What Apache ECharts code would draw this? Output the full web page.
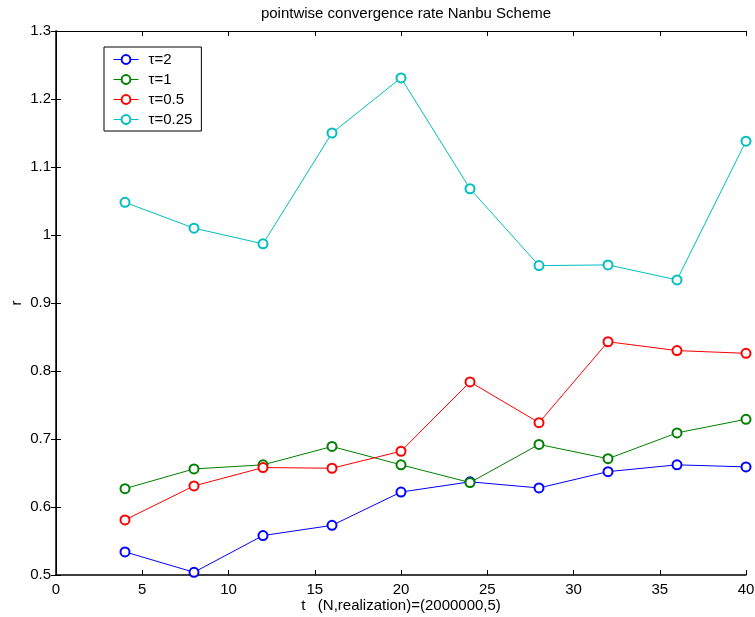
<!DOCTYPE html>
<html><head><meta charset="utf-8">
<script src="https://cdn.jsdelivr.net/npm/echarts@6/dist/echarts.min.js"></script>
<style>html,body{margin:0;padding:0;background:#fff}#c{width:755px;height:617px}</style>
</head><body><div id="c"></div>
<script>
const tValues = [4, 8, 12, 16, 20, 24, 28, 32, 36, 40];
const seriesNames = ['τ=2', 'τ=1', 'τ=0.5', 'τ=0.25'];
const tau2 = [0.534, 0.504, 0.558, 0.573, 0.622, 0.637, 0.628, 0.652, 0.662, 0.659];
const tau1 = [0.627, 0.656, 0.662, 0.689, 0.662, 0.636, 0.692, 0.671, 0.709, 0.729];
const tau05 = [0.581, 0.631, 0.658, 0.657, 0.682, 0.784, 0.724, 0.843, 0.830, 0.826];
const tau025 = [1.048, 1.010, 0.987, 1.150, 1.231, 1.068, 0.955, 0.956, 0.934, 1.138];
const colors = ['#0000ff', '#008000', '#ff0000', '#00bfbf'];
const allData = [tau2, tau1, tau05, tau025];

const font = 'Liberation Sans, Arial, Helvetica, sans-serif';
const fs = 15;
const chart = echarts.init(document.getElementById('c'));
const tick = {show: true, inside: true, length: 5, lineStyle: {color: '#000', width: 1}};
chart.setOption({
  animation: false,
  backgroundColor: '#fff',
  textStyle: {fontFamily: font},
  title: {
    text: 'pointwise convergence rate Nanbu Scheme',
    left: 401, top: 1, textAlign: 'center',
    textStyle: {fontSize: fs, fontWeight: 'normal', color: '#000', fontFamily: font}
  },
  grid: {left: 56, right: 9, top: 31, bottom: 42, containLabel: false, outerBoundsMode: 'none'},
  legend: {
    orient: 'vertical', left: 104, top: 47,
    padding: [5, 9, 4, 9], itemGap: 5, itemWidth: 25, itemHeight: 11,
    borderColor: '#000', borderWidth: 1, backgroundColor: '#fff',
    data: seriesNames,
    itemStyle: {borderWidth: 1},
    lineStyle: {width: 1},
    textStyle: {fontSize: fs, lineHeight: 15, color: '#000', fontFamily: font, padding: [0, 0, 0, 5]}
  },
  xAxis: [
    {
      type: 'value', min: 0, max: 40, interval: 5, position: 'bottom',
      axisLine: {lineStyle: {color: '#000', width: 1.5}},
      axisTick: tick, splitLine: {show: false},
      axisLabel: {color: '#000', fontSize: fs, margin: 7, fontFamily: font},
      name: 't   (N,realization)=(2000000,5)', nameLocation: 'middle', nameGap: 23,
      nameMoveOverlap: false,
      nameTextStyle: {color: '#000', fontSize: fs, fontFamily: font}
    },
    {
      type: 'value', min: 0, max: 40, interval: 5, position: 'top',
      axisLine: {lineStyle: {color: '#000', width: 1}},
      axisTick: tick, splitLine: {show: false},
      axisLabel: {show: false}
    }
  ],
  yAxis: [
    {
      type: 'value', min: 0.5, max: 1.3, interval: 0.1, position: 'left',
      axisLine: {show: true, lineStyle: {color: '#000', width: 1.5}},
      axisTick: tick, splitLine: {show: false},
      axisLabel: {color: '#000', fontSize: fs, margin: 5, fontFamily: font,
        formatter: v => String(Math.round(v * 10) / 10)},
      name: 'r', nameLocation: 'middle', nameGap: 32, nameRotate: 90,
      nameMoveOverlap: false,
      nameTextStyle: {color: '#000', fontSize: fs, fontFamily: font}
    },
    {
      type: 'value', min: 0.5, max: 1.3, interval: 0.1, position: 'right',
      axisLine: {show: true, lineStyle: {color: '#000', width: 1}},
      axisTick: tick, splitLine: {show: false},
      axisLabel: {show: false}
    }
  ],
  series: allData.map((d, i) => ({
    name: seriesNames[i], type: 'line',
    data: tValues.map((t, j) => [t, d[j]]),
    symbol: 'emptyCircle', symbolSize: 9,
    itemStyle: {color: colors[i], borderWidth: 1},
    lineStyle: {color: colors[i], width: 1},
    emphasis: {disabled: true}
  }))
});
</script></body></html>
